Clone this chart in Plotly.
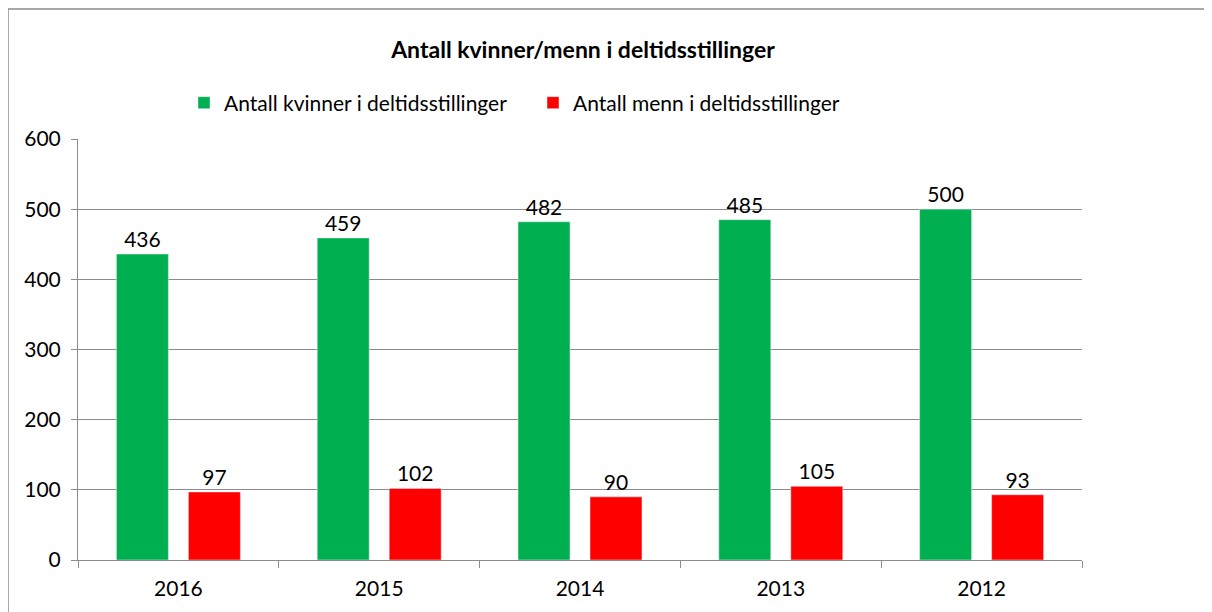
import plotly.graph_objects as go

years = ["2016", "2015", "2014", "2013", "2012"]
kvinner = [436, 459, 482, 485, 500]
menn = [97, 102, 90, 105, 93]
series_names = ["Antall kvinner i deltidsstillinger", "Antall menn i deltidsstillinger"]
title_text = "Antall kvinner/menn i deltidsstillinger"

W, H = 1212, 612
ml, mr, mt, mb = 70, 138, 131, 60
FONT = "Lato, Carlito, Calibri, sans-serif"
GRID = "#8c8c8c"
FS = 21

fig = go.Figure()
fig.add_trace(go.Bar(x=years, y=kvinner, name=series_names[0], marker_color="#00B050",
                     text=kvinner, textposition="outside", cliponaxis=False,
                     textfont=dict(size=FS, color="black")))
fig.add_trace(go.Bar(x=years, y=menn, name=series_names[1], marker_color="#FF0000",
                     text=menn, textposition="outside", cliponaxis=False,
                     textfont=dict(size=FS, color="black")))

pw = W - ml - mr
ph = H - mt - mb
fig.add_shape(type="rect", xref="paper", yref="paper",
              x0=(0 - ml) / pw, x1=(W + 20 - ml) / pw,
              y0=-(mb + 20) / ph, y1=1 + (mt - 1) / ph,
              line=dict(color="#8c8c8c", width=1.5), fillcolor="rgba(0,0,0,0)", layer="below")

fig.update_layout(
    width=W, height=H,
    margin=dict(l=ml, r=mr, t=mt, b=mb, autoexpand=False),
    paper_bgcolor="white", plot_bgcolor="white",
    font=dict(family=FONT, size=FS, color="black"),
    title=dict(text="<b>" + title_text + "</b>", x=575 / W, xanchor="center",
               y=1 - 42 / H, yanchor="middle", font=dict(size=23, family=FONT)),
    barmode="group", bargap=0.283, bargroupgap=0.278,
    legend=dict(orientation="h", x=(176 - ml) / pw, xanchor="left", y=1 + (mt - 95) / ph,
                yanchor="middle", font=dict(size=FS), entrywidth=304, itemwidth=30,
                bgcolor="rgba(0,0,0,0)"),
    showlegend=True,
)
fig.update_yaxes(range=[0, 600], dtick=100, showgrid=True, gridcolor=GRID, gridwidth=1,
                 showline=True, linecolor=GRID, linewidth=1, ticks="outside", ticklen=6,
                 tickcolor=GRID, zeroline=False, tickfont=dict(size=FS), ticklabelstandoff=6)
fig.update_xaxes(showline=True, linecolor=GRID, linewidth=1, ticks="outside", ticklen=7,
                 tickcolor=GRID, tickson="boundaries", tickfont=dict(size=FS),
                 ticklabelstandoff=10)

fig.write_html("out.html")
